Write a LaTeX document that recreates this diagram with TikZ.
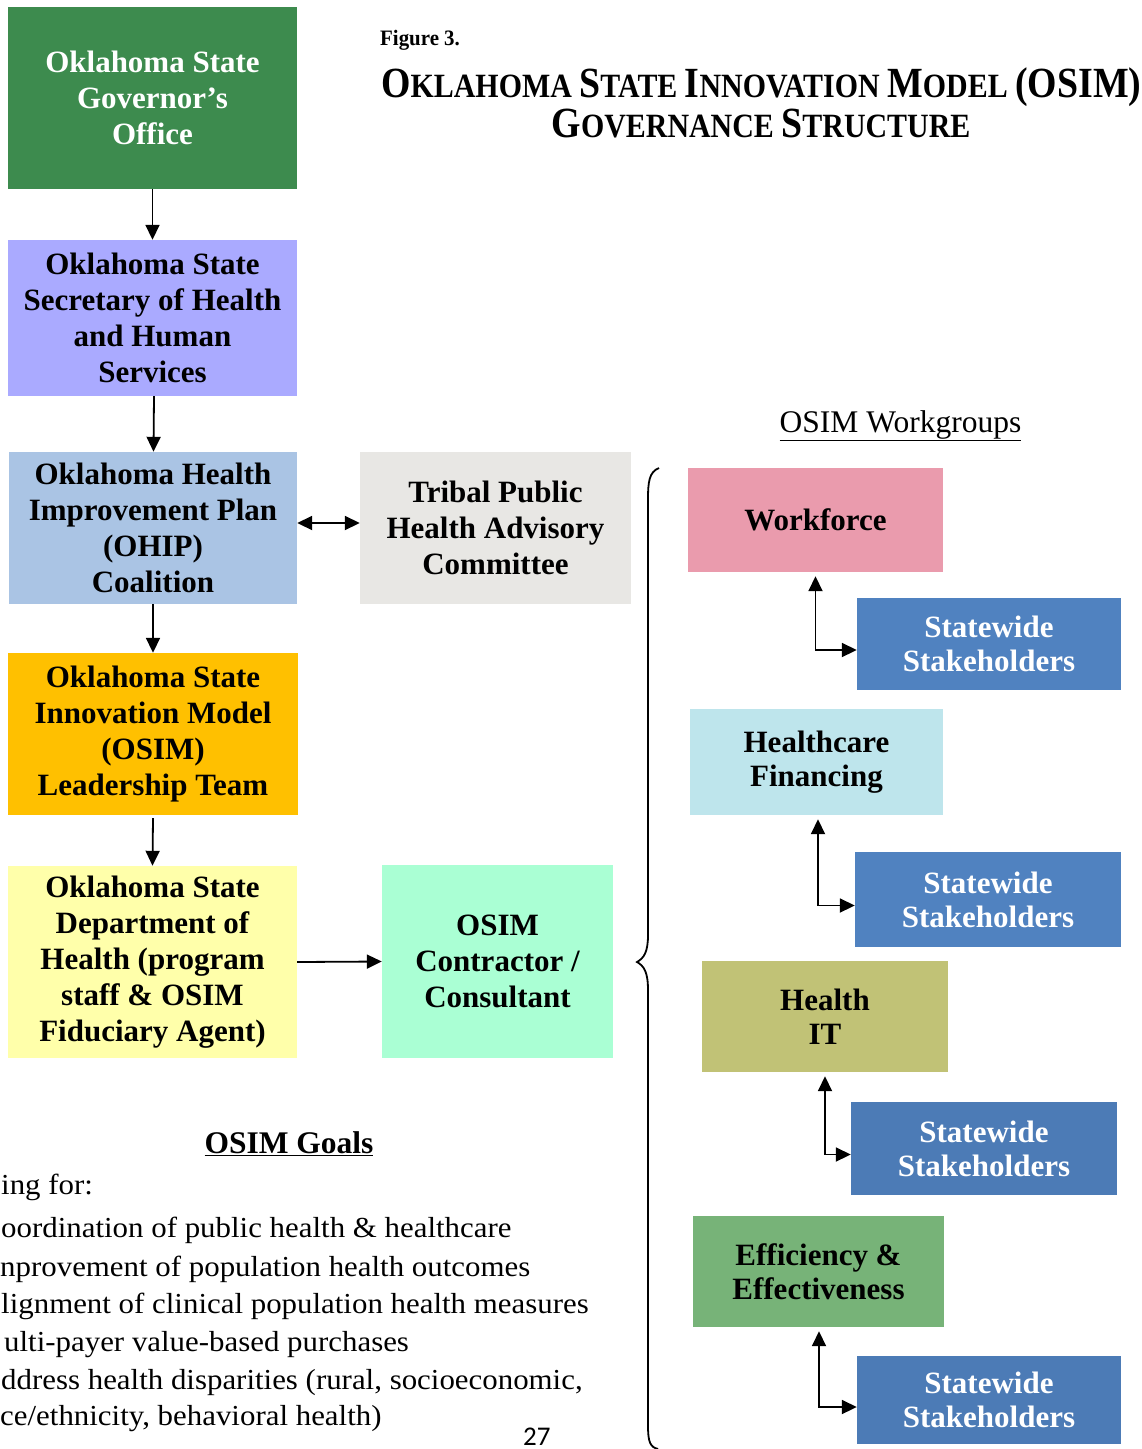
\documentclass[tikz,border=0pt]{standalone}
\usepackage{fontspec}
\setmainfont{Liberation Serif}
\newfontfamily\calib{Carlito}
\usetikzlibrary{arrows.meta}
\definecolor{cgov}{RGB}{61,139,78}
\definecolor{csec}{RGB}{170,170,255}
\definecolor{cohip}{RGB}{170,196,228}
\definecolor{ctrib}{RGB}{232,231,228}
\definecolor{clead}{RGB}{255,192,0}
\definecolor{cdept}{RGB}{255,255,170}
\definecolor{ccont}{RGB}{170,255,212}
\definecolor{cwf}{RGB}{234,155,173}
\definecolor{css}{RGB}{80,130,192}
\definecolor{chcf}{RGB}{190,229,236}
\definecolor{chit}{RGB}{193,194,118}
\definecolor{cee}{RGB}{119,179,120}
\newcommand{\bigc}{\fontsize{43}{46}\selectfont}
\newcommand{\smc}{\fontsize{34}{46}\selectfont}
\tikzset{
  box/.style={rectangle, inner sep=0pt, align=center, font=\fontsize{31}{36}\selectfont\bfseries},
  wbox/.style={rectangle, inner sep=0pt, align=center, font=\fontsize{31}{34}\selectfont\bfseries},
  arr/.style={-{Triangle[length=15pt,width=14pt]}, line width=1.8pt},
  darr/.style={{Triangle[length=15pt,width=14pt]}-{Triangle[length=15pt,width=14pt]}, line width=1.8pt},
  goal/.style={anchor=base west, inner sep=0pt, font=\fontsize{29}{34}\selectfont},
}
\newcommand{\gl}[1]{\scalebox{1.065}[1]{#1}}
\begin{document}
\begin{tikzpicture}[x=1pt,y=-1pt]
\useasboundingbox (0,0) rectangle (1142,1449);
% title
\node[anchor=base west, inner sep=0pt, font=\fontsize{22}{24}\selectfont\bfseries] (fig) at (380,45) {\scalebox{0.95}[1]{Figure 3.}};
\node[anchor=base west, inner sep=0pt, font=\bfseries] (t1) at (381,97) {\scalebox{0.88}[1]{\bigc O\smc KLAHOMA \bigc S\smc TATE \bigc I\smc NNOVATION \bigc M\smc ODEL \bigc(OSIM)}};
\node[anchor=base, inner sep=0pt, font=\bfseries] (t2) at (761,137) {\scalebox{0.88}[1]{\bigc G\smc OVERNANCE \bigc S\smc TRUCTURE}};
% left column
\node[box, fill=cgov, text=white, minimum width=289, minimum height=182] (gov) at (152.5,98) {Oklahoma State\\Governor's\\Office};
\node[box, fill=csec, minimum width=289, minimum height=156] (sec) at (152.5,318) {Oklahoma State\\Secretary of Health\\and Human\\Services};
\node[box, fill=cohip, minimum width=288, minimum height=152] (ohip) at (153,528) {Oklahoma Health\\Improvement Plan\\(OHIP)\\Coalition};
\node[box, fill=ctrib, minimum width=271, minimum height=152] (trib) at (495.5,528) {Tribal Public\\Health Advisory\\Committee};
\node[box, fill=clead, minimum width=290, minimum height=162] (lead) at (153,734) {Oklahoma State\\Innovation Model\\(OSIM)\\Leadership Team};
\node[box, fill=cdept, minimum width=289, minimum height=192] (dept) at (152.5,962) {Oklahoma State\\Department of\\Health (program\\staff \& OSIM\\Fiduciary Agent)};
\node[box, fill=ccont, minimum width=231, minimum height=193] (cont) at (497.5,961.5) {OSIM\\Contractor /\\Consultant};
\draw[arr] (gov.south) -- (sec.north);
\draw[arr] ([xshift=1.5pt]sec.south) -- ([xshift=0.5pt]ohip.north);
\draw[arr] (ohip.south) -- (lead.north);
\draw[arr] ([yshift=-3pt]lead.south) -- (dept.north);
\draw[darr] ([yshift=5pt]ohip.east) -- ([yshift=5pt]trib.west);
\draw[arr] (dept.east) -- (cont.west);
% workgroups
\node[anchor=base, inner sep=0pt, font=\fontsize{31.5}{34}\selectfont] (wgt) at (900.5,432) {\underline{OSIM Workgroups}};
\node[wbox, fill=cwf, minimum width=255, minimum height=104] (wf) at (815.5,520) {Workforce};
\node[wbox, fill=css, text=white, minimum width=264, minimum height=92] (ss1) at (989,644) {Statewide\\Stakeholders};
\node[wbox, fill=chcf, minimum width=253, minimum height=106] (hcf) at (816.5,762) {Healthcare\\Financing};
\node[wbox, fill=css, text=white, minimum width=266, minimum height=95] (ss2) at (988,899.5) {Statewide\\Stakeholders};
\node[wbox, fill=chit, minimum width=246, minimum height=111] (hit) at (825,1016.5) {Health\\IT};
\node[wbox, fill=css!95!black, text=white, minimum width=266, minimum height=93] (ss3) at (984,1148.5) {Statewide\\Stakeholders};
\node[wbox, fill=cee, minimum width=251, minimum height=111] (ee) at (818.5,1271.5) {Efficiency \&\\Effectiveness};
\node[wbox, fill=css!95!black, text=white, minimum width=264, minimum height=88] (ss4) at (989,1400) {Statewide\\Stakeholders};
\draw[darr] ([yshift=-4pt]wf.south) |- ([yshift=-6pt]ss1.west);
\draw[darr] ([xshift=1.5pt,yshift=-4pt]hcf.south) |- ([yshift=-6pt]ss2.west);
\draw[darr] ([yshift=-4pt]hit.south) |- ([yshift=-6pt]ss3.west);
\draw[darr] ([xshift=0.5pt,yshift=-4pt]ee.south) |- ([yshift=-7pt]ss4.west);
% brace
\draw[line width=1.8pt] (659,468) .. controls (649,472) and (648,482) .. (648,500)
  -- (648,935) .. controls (648,952) and (644,958) .. (637,962)
  .. controls (644,966) and (648,972) .. (648,990)
  -- (648,1425) .. controls (648,1442) and (650,1447) .. (658,1449);
% goals
\node[anchor=base, inner sep=0pt, font=\fontsize{31.5}{34}\selectfont\bfseries] (gt) at (289,1153) {\underline{OSIM Goals}};
\node[goal] (g0) at (1,1194) {\gl{ing for:}};
\node[goal] (g1) at (1,1237) {\gl{oordination of public health \& healthcare}};
\node[goal] (g2) at (0,1276) {\gl{nprovement of population health outcomes}};
\node[goal] (g3) at (1,1313) {\gl{lignment of clinical population health measures}};
\node[goal] (g4) at (4,1351) {\gl{ulti-payer value-based purchases}};
\node[goal] (g5) at (1,1389) {\gl{ddress health disparities (rural, socioeconomic,}};
\node[goal] (g6) at (0,1425) {\gl{ce/ethnicity, behavioral health)}};
\node[anchor=base west, inner sep=0pt, font=\calib\fontsize{27}{30}\selectfont] (pg) at (523,1445) {27};
\end{tikzpicture}
\end{document}
